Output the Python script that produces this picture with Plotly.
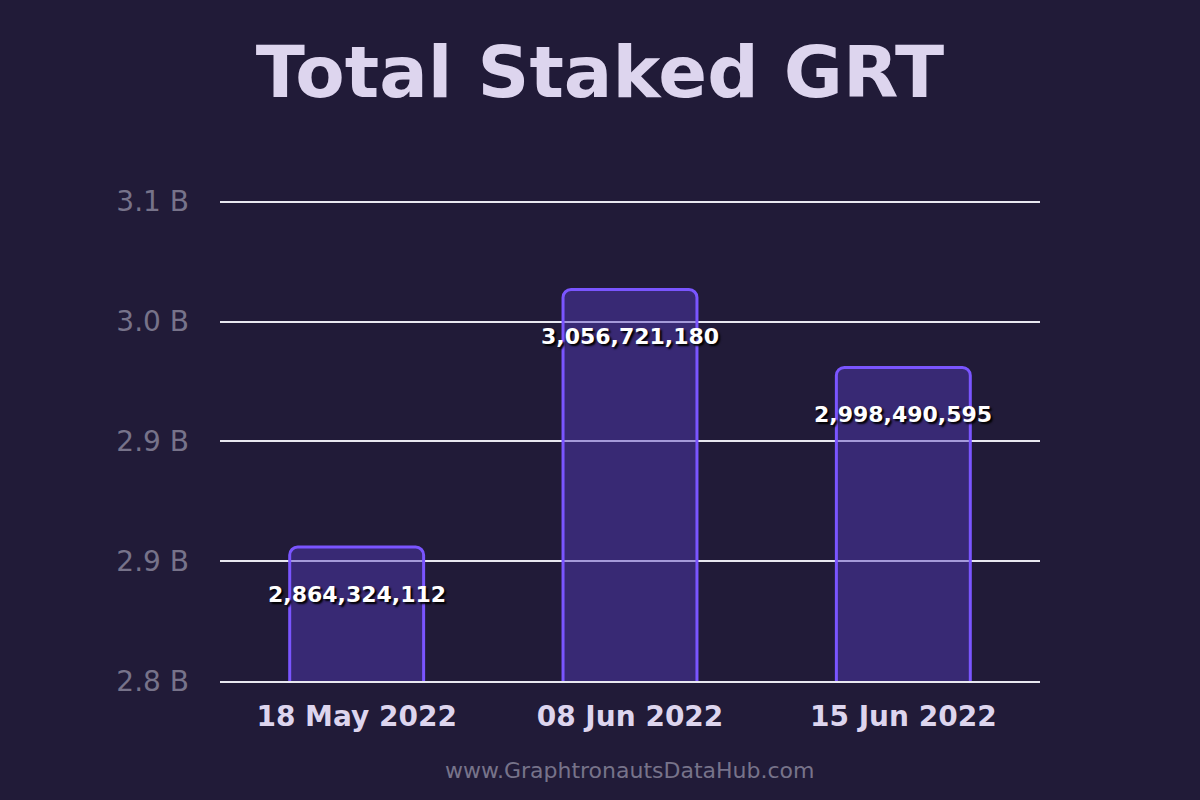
import plotly.graph_objects as go

dates = ["18 May 2022", "08 Jun 2022", "15 Jun 2022"]
staked = [2864324112, 3056721180, 2998490595]
tick_vals = [2.7643e9, 2.8538e9, 2.9433e9, 3.0328e9, 3.1223e9]
tick_text = ["2.8 B", "2.9 B", "2.9 B", "3.0 B", "3.1 B"]

fig = go.Figure()
fig.add_trace(go.Bar(
    x=dates, y=staked, width=0.49,
    marker=dict(color="rgba(85,60,190,0.45)", line=dict(color="#7a55ff", width=3), cornerradius=8),
    hoverinfo="skip",
))

# value labels sit a little below each bar top and may overflow the bar
for d, v in zip(dates, staked):
    fig.add_annotation(x=d, y=v, yshift=-47, text=f"<b>{v:,}</b>", showarrow=False,
                       font=dict(family="DejaVu Sans", size=22, color="white", shadow="2px 2px 2px black"))

fig.update_layout(
    width=1200, height=800,
    paper_bgcolor="#211b38", plot_bgcolor="rgba(0,0,0,0)",
    margin=dict(l=220, r=160, t=199, b=119),
    title=dict(text="<b>Total Staked GRT</b>", x=0.5, xanchor="center", y=0.91, yanchor="middle",
               font=dict(family="DejaVu Sans", size=72, color="#ddd5ee")),
    showlegend=False,
)
fig.update_yaxes(range=[tick_vals[0], tick_vals[-1] + 0.002e9], tickvals=tick_vals, ticktext=tick_text,
                 gridcolor="#e8e8f0", gridwidth=1.5, zeroline=False, ticklabelstandoff=30,
                 tickfont=dict(family="DejaVu Sans", size=28, color="#77738a"))
fig.update_xaxes(tickfont=dict(family="DejaVu Sans", size=28, color="#ddd5ee", weight="bold"),
                 showline=True, linecolor="#e8e8f0", linewidth=1.5, ticklabelstandoff=10)
fig.add_annotation(text="www.GraphtronautsDataHub.com", x=0.5, y=-0.215, xref="paper", yref="paper",
                   showarrow=False, font=dict(family="DejaVu Sans", size=22, color="#77738a"))
fig.write_html("out.html", config={"displayModeBar": False},
               post_script="document.body.style.margin='0';document.body.style.background='#211b38';")
